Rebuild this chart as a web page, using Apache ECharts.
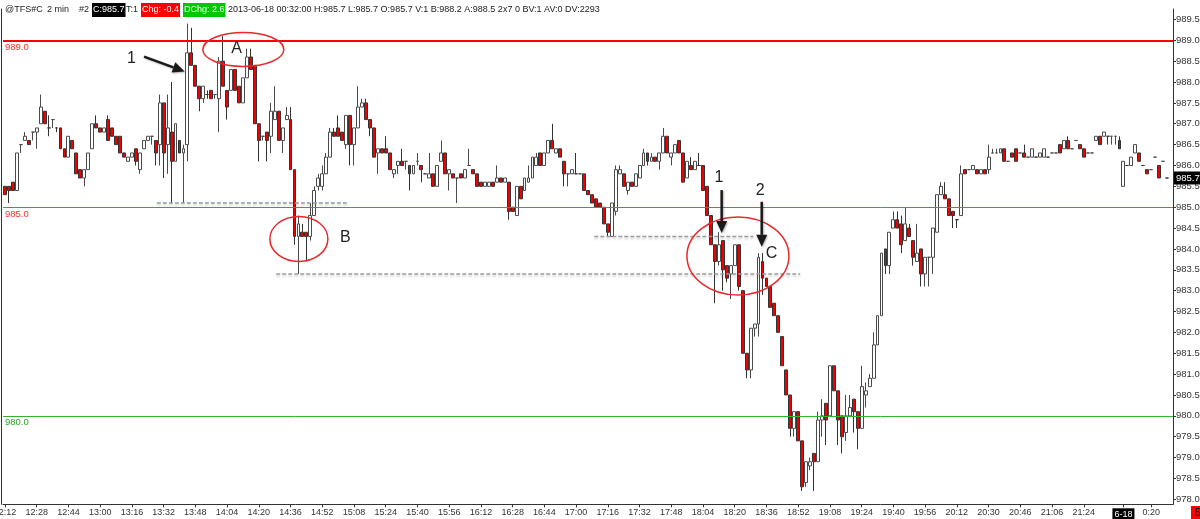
<!DOCTYPE html>
<html>
<head>
<meta charset="utf-8">
<script src="https://cdn.jsdelivr.net/npm/echarts@6/dist/echarts.min.js"></script>
<style>
  html, body { margin: 0; padding: 0; background: #fff; }
  #chart { width: 1200px; height: 519px; }
</style>
</head>
<body>
<div id="chart"></div>
<script>
// @TFS#C 2 min bars, 2013-06-17 12:12 -> 2013-06-18 00:32
const times = (
  "12:12 12:14 12:16 12:18 12:20 12:22 12:24 12:26 12:28 12:30 12:32 12:34 12:36 12:38 12:40 12:42 12:44 12:46 12:48 12:50 12:52 12:54 12:56 12:58 " +
  "13:00 13:02 13:04 13:06 13:08 13:10 13:12 13:14 13:16 13:18 13:20 13:22 13:24 13:26 13:28 13:30 13:32 13:34 13:36 13:38 13:40 13:42 13:44 13:46 13:48 13:50 13:52 13:54 13:56 13:58 " +
  "14:00 14:02 14:04 14:06 14:08 14:10 14:12 14:14 14:16 14:18 14:20 14:22 14:24 14:26 14:28 14:30 14:32 14:34 14:36 14:38 14:40 14:42 14:44 14:46 14:48 14:50 14:52 14:54 14:56 14:58 " +
  "15:00 15:02 15:04 15:06 15:08 15:10 15:12 15:14 15:16 15:18 15:20 15:22 15:24 15:26 15:28 15:30 15:32 15:34 15:36 15:38 15:40 15:42 15:44 15:46 15:48 15:50 15:52 15:54 15:56 15:58 " +
  "16:00 16:02 16:04 16:06 16:08 16:10 16:12 16:14 16:16 16:18 16:20 16:22 16:24 16:26 16:28 16:30 16:32 16:34 16:36 16:38 16:40 16:42 16:44 16:46 16:48 16:50 16:52 16:54 16:56 16:58 " +
  "17:00 17:02 17:04 17:06 17:08 17:10 17:12 17:14 17:16 17:18 17:20 17:22 17:24 17:26 17:28 17:30 17:32 17:34 17:36 17:38 17:40 17:42 17:44 17:46 17:48 17:50 17:52 17:54 17:56 17:58 " +
  "18:00 18:02 18:04 18:06 18:08 18:10 18:12 18:14 18:16 18:18 18:20 18:22 18:24 18:26 18:28 18:30 18:32 18:34 18:36 18:38 18:40 18:42 18:44 18:46 18:48 18:50 18:52 18:54 18:56 18:58 " +
  "19:00 19:02 19:04 19:06 19:08 19:10 19:12 19:14 19:16 19:18 19:20 19:22 19:24 19:26 19:28 19:30 19:32 19:34 19:36 19:38 19:40 19:42 19:44 19:46 19:48 19:50 19:52 19:54 19:56 19:58 " +
  "20:00 20:02 20:04 20:06 20:08 20:10 20:12 20:14 20:16 20:18 20:20 20:24 20:26 20:28 20:30 20:32 20:34 20:36 20:38 20:40 20:42 20:44 20:46 20:48 20:50 20:54 20:56 20:58 " +
  "21:02 21:04 21:06 21:08 21:10 21:12 21:14 21:18 21:20 21:22 21:24 21:26 21:28 21:30 21:32 21:36 21:40 21:44 21:48 21:54 " +
  "0:06 0:08 0:10 0:12 0:14 0:16 0:18 0:20 0:22 0:26 0:30 0:32"
).split(" ");

// [open, close, low, high]
const bars = [
  // 0
  [985.5, 985.3, 985.3, 985.5], [985.5, 985.4, 985.1, 985.5], [985.6, 985.4, 985.4, 985.6], [985.4, 986.3, 985.4, 986.3], [986.5, 986.5, 986.3, 986.5],
  [986.6, 986.7, 986.6, 986.8], [986.6, 986.5, 986.5, 986.6], [986.8, 986.8, 986.6, 986.8], [986.8, 986.9, 986.4, 986.9], [987.0, 987.4, 987.0, 987.7],
  // 10
  [987.3, 987.0, 987.0, 987.3], [986.9, 986.9, 986.7, 987.2], [987.1, 987.1, 986.9, 987.1], [986.9, 986.9, 986.8, 986.9], [986.9, 986.4, 986.4, 986.9],
  [986.4, 986.2, 986.2, 986.4], [986.2, 986.7, 986.2, 986.7], [986.6, 986.4, 986.4, 986.6], [986.3, 985.8, 985.8, 986.3], [985.9, 985.7, 985.7, 985.9],
  // 20
  [985.7, 985.9, 985.5, 985.9], [985.9, 986.3, 985.9, 986.3], [986.4, 987.0, 986.4, 987.0], [987.0, 986.9, 986.9, 987.2], [986.9, 986.8, 986.8, 986.9],
  [986.8, 986.9, 986.8, 986.9], [987.1, 986.6, 986.6, 987.2], [986.9, 986.7, 986.7, 986.9], [986.7, 986.5, 986.5, 986.7], [986.7, 986.3, 986.3, 986.7],
  // 30
  [986.3, 986.2, 986.2, 986.3], [986.1, 986.2, 986.1, 986.2], [986.2, 986.3, 986.2, 986.3], [986.4, 986.1, 986.0, 986.4], [985.9, 986.3, 985.8, 986.3],
  [986.4, 986.6, 986.4, 986.6], [986.6, 986.7, 986.6, 986.7], [986.7, 986.7, 986.5, 986.7], [986.6, 986.3, 986.0, 986.6], [986.5, 987.5, 986.0, 987.7],
  // 40
  [987.5, 986.3, 985.7, 987.5], [986.5, 986.9, 985.8, 987.7], [986.8, 986.1, 985.1, 988.0], [986.1, 987.0, 986.1, 987.0], [986.6, 986.3, 986.3, 986.6],
  [986.3, 986.4, 985.1, 986.5], [986.5, 988.7, 986.1, 989.4], [988.7, 988.4, 988.4, 989.3], [988.4, 987.9, 987.9, 988.4], [987.9, 987.6, 987.3, 987.9],
  // 50
  [987.6, 987.9, 987.5, 987.9], [987.7, 987.7, 987.6, 987.8], [987.8, 987.6, 987.6, 987.8], [987.7, 987.7, 987.6, 987.7], [987.6, 988.5, 986.8, 988.6],
  [988.5, 987.9, 987.9, 989.1], [987.8, 987.4, 987.1, 987.8], [987.8, 988.3, 987.8, 988.3], [988.3, 987.8, 987.8, 988.3], [987.9, 987.5, 987.5, 987.9],
  // 60
  [987.5, 988.1, 987.5, 988.1], [988.1, 988.6, 988.1, 988.8], [988.6, 988.3, 988.3, 988.8], [988.4, 987.0, 987.0, 988.4], [987.0, 986.6, 986.1, 987.0],
  [986.7, 986.7, 986.6, 986.7], [986.8, 986.6, 986.1, 986.8], [986.7, 987.3, 986.3, 987.5], [987.1, 987.3, 987.1, 987.9], [987.3, 986.6, 986.6, 987.3],
  // 70
  [986.6, 986.9, 986.3, 986.9], [987.1, 987.2, 987.1, 987.4], [987.1, 985.9, 985.9, 987.4], [985.9, 984.3, 984.1, 985.9], [984.3, 984.6, 983.4, 984.8],
  [984.4, 984.3, 984.3, 984.6], [984.4, 984.3, 983.7, 984.4], [984.3, 984.8, 984.2, 985.1], [984.8, 985.4, 984.8, 985.5], [985.5, 985.7, 985.4, 985.8],
  // 80
  [985.5, 985.8, 985.4, 986.0], [985.8, 986.2, 985.8, 986.3], [986.2, 986.8, 986.2, 986.9], [986.8, 986.7, 986.7, 986.9], [986.9, 986.7, 986.7, 987.2],
  [986.8, 986.6, 986.6, 986.8], [986.5, 987.2, 986.4, 987.2], [987.2, 986.5, 986.0, 987.2], [986.5, 986.9, 986.0, 986.9], [986.9, 987.4, 986.9, 987.9],
  // 90
  [987.4, 987.5, 987.4, 987.6], [987.5, 987.1, 987.1, 987.6], [987.1, 986.9, 986.7, 987.1], [986.9, 986.2, 986.2, 986.9], [986.3, 986.4, 985.8, 986.4],
  [986.4, 986.3, 986.3, 986.4], [986.4, 986.3, 986.3, 986.7], [986.3, 985.9, 985.9, 986.3], [985.8, 985.9, 985.7, 985.9], [986.0, 986.1, 985.8, 986.1],
  // 100
  [986.1, 986.0, 986.0, 986.4], [986.1, 986.1, 985.9, 986.1], [986.0, 985.8, 985.4, 986.0], [985.8, 986.0, 985.8, 986.0], [986.1, 986.1, 986.0, 986.3],
  [986.0, 985.9, 985.6, 986.0], [985.8, 985.8, 985.8, 985.8], [985.7, 985.8, 985.7, 986.3], [985.8, 985.5, 985.5, 985.8], [985.5, 986.0, 985.5, 986.0],
  // 110
  [986.1, 986.3, 986.1, 986.6], [986.3, 985.8, 985.8, 986.3], [985.8, 985.9, 985.4, 985.9], [985.8, 985.7, 985.7, 985.8], [985.7, 985.7, 985.1, 985.7],
  [985.8, 985.7, 985.7, 985.8], [985.7, 985.9, 985.7, 985.9], [986.0, 986.0, 986.0, 986.4], [985.9, 985.8, 985.8, 985.9], [985.8, 985.5, 985.5, 985.8],
  // 120
  [985.6, 985.5, 985.5, 985.6], [985.5, 985.6, 985.5, 985.6], [985.5, 985.6, 985.5, 985.6], [985.6, 985.5, 985.5, 985.6], [985.6, 985.7, 985.6, 986.0],
  [985.7, 985.6, 985.6, 985.7], [985.6, 985.7, 985.6, 985.7], [985.6, 984.9, 984.7, 985.6], [985.0, 984.9, 984.9, 985.0], [984.8, 985.5, 984.8, 985.5],
  // 130
  [985.5, 985.2, 985.2, 985.5], [985.4, 985.7, 985.4, 985.7], [985.6, 985.7, 985.6, 986.0], [985.7, 986.2, 985.7, 986.2], [986.0, 986.2, 986.0, 986.3],
  [986.3, 986.0, 986.0, 986.3], [986.0, 986.3, 986.0, 986.3], [986.3, 986.6, 986.3, 986.6], [986.6, 986.4, 986.4, 987.0], [986.3, 986.4, 986.3, 986.4],
  // 140
  [986.4, 986.2, 986.2, 986.4], [986.1, 985.8, 985.5, 986.1], [985.8, 985.8, 985.5, 985.8], [985.8, 985.9, 985.8, 985.9], [985.8, 985.8, 985.8, 986.3],
  [985.8, 985.8, 985.8, 985.8], [985.8, 985.4, 985.4, 985.8], [985.4, 985.3, 985.3, 985.4], [985.3, 985.1, 985.1, 985.3], [985.2, 985.0, 985.0, 985.2],
  // 150
  [985.1, 985.0, 985.0, 985.1], [985.0, 984.6, 984.6, 985.0], [984.6, 984.4, 984.3, 984.6], [984.3, 985.1, 984.3, 985.1], [984.9, 985.9, 984.8, 986.0],
  [985.8, 985.9, 985.8, 986.0], [985.8, 985.5, 985.5, 985.8], [985.4, 985.6, 985.3, 985.6], [985.6, 985.5, 985.5, 985.6], [985.5, 985.8, 985.5, 985.8],
  // 160
  [985.7, 986.0, 985.7, 986.0], [986.0, 986.3, 986.0, 986.4], [986.3, 986.1, 986.0, 986.3], [986.1, 986.2, 986.1, 986.3], [986.2, 986.1, 986.1, 986.2],
  [986.1, 986.3, 985.9, 986.3], [986.3, 986.7, 986.3, 986.9], [986.7, 986.3, 986.3, 986.7], [986.2, 986.3, 986.0, 986.3], [986.3, 986.5, 986.3, 986.5],
  // 170
  [986.6, 986.3, 986.3, 986.6], [986.3, 985.6, 985.6, 986.3], [985.7, 986.1, 985.7, 986.1], [986.0, 985.9, 985.9, 986.2], [985.9, 986.1, 985.9, 986.1],
  [986.0, 986.0, 986.0, 986.3], [986.0, 985.4, 985.4, 986.0], [985.5, 984.8, 984.8, 985.5], [984.8, 984.1, 984.1, 984.8], [984.1, 983.7, 982.7, 984.1],
  // 180
  [983.7, 984.1, 983.6, 984.4], [984.2, 983.5, 983.0, 984.2], [983.6, 983.3, 983.2, 983.6], [983.4, 983.6, 982.8, 983.6], [983.6, 984.1, 983.6, 984.1],
  [984.1, 983.1, 983.0, 984.1], [983.0, 981.5, 981.5, 983.0], [981.5, 981.1, 980.9, 981.5], [981.1, 982.1, 980.9, 982.1], [982.1, 982.2, 981.9, 982.2],
  // 190
  [982.2, 983.8, 981.9, 983.9], [983.7, 983.3, 982.9, 983.9], [983.3, 983.1, 983.1, 983.3], [983.1, 982.6, 982.6, 983.1], [982.7, 982.4, 982.4, 982.7],
  [982.4, 982.0, 982.0, 982.4], [981.9, 981.2, 981.2, 981.9], [981.1, 980.5, 980.5, 981.1], [980.5, 979.7, 979.5, 980.5], [979.7, 980.1, 979.5, 980.1],
  // 200
  [980.1, 979.4, 979.4, 980.1], [979.4, 978.3, 978.2, 979.4], [978.4, 978.9, 978.3, 978.9], [978.8, 978.9, 978.7, 979.0], [979.1, 978.9, 978.2, 979.1],
  [978.9, 979.9, 978.9, 980.1], [979.9, 980.0, 979.5, 980.4], [980.3, 979.9, 979.3, 980.3], [980.0, 981.2, 980.0, 981.2], [981.2, 980.6, 980.6, 981.2],
  // 210
  [980.6, 979.9, 979.3, 980.6], [980.0, 979.5, 979.1, 980.0], [979.6, 980.0, 979.4, 980.5], [980.0, 980.2, 980.0, 980.5], [980.4, 980.1, 979.6, 980.4],
  [980.1, 979.7, 979.2, 980.1], [979.7, 980.7, 979.7, 981.2], [980.5, 980.6, 980.2, 980.8], [980.7, 980.9, 980.7, 981.0], [980.9, 981.7, 980.9, 982.0],
  // 220
  [981.7, 982.4, 981.7, 982.4], [982.4, 983.9, 982.4, 983.9], [984.0, 983.6, 983.4, 984.0], [983.6, 984.4, 983.4, 984.4], [984.5, 984.7, 984.5, 984.9],
  [984.7, 984.5, 984.5, 984.9], [984.6, 984.1, 983.9, 984.8], [984.2, 984.6, 984.2, 985.0], [984.5, 984.3, 984.3, 984.6], [984.2, 983.8, 983.6, 984.2],
  // 230
  [983.7, 983.9, 983.7, 984.6], [984.0, 983.4, 983.1, 984.0], [983.4, 983.8, 983.1, 983.8], [983.8, 983.8, 983.1, 983.8], [983.8, 984.5, 983.4, 984.5],
  [984.4, 985.3, 984.4, 985.3], [985.3, 985.5, 985.3, 985.6], [985.3, 985.2, 985.2, 985.6], [985.2, 984.8, 984.8, 985.2], [984.9, 984.8, 984.5, 984.9],
  // 240
  [984.7, 984.7, 984.5, 984.7], [984.8, 985.8, 984.8, 986.0], [985.9, 985.8, 985.8, 985.9], [985.9, 985.9, 985.9, 985.9], [985.9, 986.0, 985.9, 986.0],
  [985.9, 985.8, 985.8, 985.9], [985.8, 985.9, 985.8, 985.9], [985.9, 985.8, 985.8, 985.9], [985.9, 986.2, 985.8, 986.5], [986.3, 986.3, 986.3, 986.4],
  // 250
  [986.3, 986.3, 986.3, 986.4], [986.3, 986.4, 986.3, 986.4], [986.4, 986.1, 986.1, 986.4], [986.1, 986.1, 986.1, 986.1], [986.3, 986.2, 986.2, 986.3],
  [986.4, 986.1, 986.1, 986.4], [986.3, 986.3, 986.3, 986.3], [986.3, 986.2, 986.2, 986.5], [986.2, 986.2, 986.2, 986.2], [986.2, 986.4, 986.2, 986.4],
  // 260
  [986.2, 986.2, 986.2, 986.2], [986.2, 986.3, 986.2, 986.3], [986.2, 986.4, 986.2, 986.4], [986.2, 986.2, 986.2, 986.2], [986.3, 986.3, 986.3, 986.3],
  [986.3, 986.3, 986.3, 986.3], [986.5, 986.3, 986.3, 986.5], [986.4, 986.6, 986.4, 986.6], [986.6, 986.4, 986.4, 986.7], [986.4, 986.4, 986.4, 986.4],
  // 270
  [986.6, 986.6, 986.6, 986.6], [986.5, 986.4, 986.4, 986.5], [986.4, 986.2, 986.2, 986.4], [986.3, 986.3, 986.3, 986.3], [986.3, 986.3, 986.3, 986.3],
  [986.6, 986.7, 986.6, 986.7], [986.7, 986.5, 986.5, 986.7], [986.7, 986.8, 986.7, 986.8], [986.7, 986.7, 986.5, 986.7], [986.7, 986.7, 986.5, 986.7],
  // 280
  [986.7, 986.7, 986.5, 986.7], [986.6, 986.4, 986.4, 986.7], [985.5, 986.1, 985.5, 986.1], [986.0, 986.0, 986.0, 986.0], [986.0, 986.2, 986.0, 986.2],
  [986.3, 986.5, 986.3, 986.5], [986.3, 986.1, 986.1, 986.3], [986.0, 986.0, 986.0, 986.0], [985.9, 985.8, 985.8, 985.9], [985.9, 985.9, 985.9, 985.9],
  // 290
  [986.2, 986.2, 986.2, 986.2], [986.0, 985.7, 985.7, 986.0], [986.1, 986.1, 986.1, 986.1], [985.7, 985.7, 985.7, 985.7]
];

// x-axis labels (every 8 bars) and the session date marker
const tickAt = ("12:12 12:28 12:44 13:00 13:16 13:32 13:48 14:04 14:20 14:36 14:52 15:08 15:24 15:40 15:56 16:12 16:28 16:44 " +
  "17:00 17:16 17:32 17:48 18:04 18:20 18:36 18:52 19:08 19:24 19:40 19:56 20:12 20:30 20:46 21:06 21:24 0:06 0:20").split(" ");
const dayMark = { at: "0:06", text: "6-18" };

const yTicks = [978.0, 978.5, 979.0, 979.5, 980.0, 980.5, 981.0, 981.5, 982.0, 982.5, 983.0, 983.5,
  984.0, 984.5, 985.0, 985.5, 986.0, 986.5, 987.0, 987.5, 988.0, 988.5, 989.0, 989.5];

// horizontal levels: price, line colour, width, label colour
const levels = [
  [989.0, "#ff0000", 2, "#ff3030"],
  [985.0, "#ff4040", 1, "#ff3030"],
  [980.0, "#2fb52f", 1, "#2a9f2a"]
];

// annotations (bar index, price)
const supports = [[38.3, 86.7, 985.1], [68.4, 200.5, 983.4], [148.6, 188.7, 984.3]];
const circles = [[60.1, 988.78, 40.5, 17], [74.1, 984.24, 29, 22.5], [184.8, 983.83, 51, 39]];
const arrows = [[35.05, 988.61, 45.3, 988.25], [180.7, 985.41, 180.7, 984.38], [190.8, 985.13, 190.8, 984.05]];
const notes = [["1", 31.9, 988.57], ["A", 58.4, 988.81], ["B", 85.8, 984.28], ["C", 193.3, 983.9], ["1", 180.0, 985.70], ["2", 190.4, 985.41]];

const header = [
  [5, "@TFS#C"], [47, "2 min"], [79, "#2"], [92, "C:985.7", "#000000"], [126, "T:1"],
  [141, "Chg: -0.4", "#ff0000"], [183, "DChg: 2.6", "#00c800"],
  [228, "2013-06-18 00:32:00 H:985.7 L:985.7 O:985.7 V:1 B:988.2 A:988.5 2x7 0 BV:1 AV:0 DV:2293"]
];

const FONT = '"Liberation Sans", Arial, sans-serif';
const categories = times.concat([""]);
const lastClose = bars[bars.length - 1][1];

const option = {
  animation: false,
  backgroundColor: "#ffffff",
  grid: { left: 3, right: 27, top: 9, bottom: 14.7, outerBoundsMode: "none" },
  xAxis: {
    type: "category",
    data: categories,
    boundaryGap: true,
    axisLine: { lineStyle: { color: "#333", width: 1 } },
    axisTick: {
      show: true, length: 3, alignWithLabel: true,
      interval: (i, v) => tickAt.includes(v),
      lineStyle: { color: "#333" }
    },
    axisLabel: {
      interval: (i, v) => tickAt.includes(v),
      formatter: v => (v === dayMark.at ? "{d|" + dayMark.text + "}" : v),
      color: "#333", fontSize: 9, fontFamily: FONT, margin: 4,
      rich: { d: { backgroundColor: "#000", color: "#fff", fontSize: 9, fontFamily: FONT, padding: [2, 2, 1, 2] } }
    },
    splitLine: { show: false }
  },
  yAxis: [
    {
      type: "value",
      position: "right",
      min: 977.88,
      max: 989.75,
      axisLine: { show: true, lineStyle: { color: "#333" } },
      axisTick: { show: true, length: 3, customValues: yTicks, lineStyle: { color: "#333" } },
      axisLabel: { customValues: yTicks, formatter: v => v.toFixed(1), color: "#333", fontSize: 9.5, fontFamily: FONT, margin: 3 },
      splitLine: { show: false }
    },
    {
      type: "value", position: "left", offset: 2, min: 0, max: 1,
      axisLine: { show: true, lineStyle: { color: "#333" } },
      axisTick: { show: false }, axisLabel: { show: false }, splitLine: { show: false }
    }
  ],
  series: [{
    type: "candlestick",
    data: bars,
    barWidth: 3.4,
    itemStyle: { color: "#ffffff", color0: "#f00000", borderColor: "#4a4a4a", borderColor0: "#333", borderWidth: 1 },
    markLine: {
      silent: true,
      symbol: ["none", "none"],
      data: levels.map(([p, c, w, lc]) => ({
        yAxis: p,
        lineStyle: { color: c, width: w, type: "solid" },
        label: { show: true, position: "insideStartBottom", distance: 2, formatter: p.toFixed(1), color: lc, fontSize: 9.5, fontFamily: FONT }
      })).concat([{
        yAxis: lastClose,
        lineStyle: { color: "rgba(0,0,0,0)", width: 0 },
        label: { show: true, position: "end", distance: 1, formatter: lastClose.toFixed(1), color: "#fff", backgroundColor: "#000", padding: [2, 2, 1, 2], fontSize: 9.5, fontFamily: FONT }
      }])
    }
  }]
};

const chart = echarts.init(document.getElementById("chart"));
chart.setOption(option);

// annotations drawn through the axes' own scales
const x0 = chart.convertToPixel({ xAxisIndex: 0 }, 0);
const x1 = chart.convertToPixel({ xAxisIndex: 0 }, 1);
const X = i => x0 + (x1 - x0) * i;
const Y = p => chart.convertToPixel({ yAxisIndex: 0 }, p);

const g = [];
supports.forEach(([a, b, p]) => {
  g.push({ type: "line", z: 50, shape: { x1: X(a), y1: Y(p), x2: X(b), y2: Y(p) },
    style: { stroke: "#9a9a9a", lineWidth: 1.5, lineDash: [4, 2], shadowColor: "rgba(0,0,0,0.18)", shadowBlur: 2, shadowOffsetY: 2 } });
});
circles.forEach(([i, p, rx, ry]) => {
  g.push({ type: "ellipse", z: 60, shape: { cx: X(i), cy: Y(p), rx: rx, ry: ry },
    style: { fill: "none", stroke: "#e8282c", lineWidth: 1.5 } });
});
arrows.forEach(([ia, pa, ib, pb]) => {
  const ax = X(ia), ay = Y(pa), bx = X(ib), by = Y(pb);
  const len = Math.hypot(bx - ax, by - ay), ux = (bx - ax) / len, uy = (by - ay) / len;
  const hl = 12, hw = 5.5;
  const cx = bx - ux * hl, cy = by - uy * hl;
  g.push({ type: "line", z: 60, shape: { x1: ax, y1: ay, x2: cx, y2: cy },
    style: { stroke: "#1a1a1a", lineWidth: 2.5, shadowColor: "rgba(0,0,0,0.3)", shadowBlur: 2, shadowOffsetX: 1, shadowOffsetY: 1 } });
  g.push({ type: "polygon", z: 60, shape: { points: [[bx, by], [cx - uy * hw, cy + ux * hw], [cx + uy * hw, cy - ux * hw]] },
    style: { fill: "#1a1a1a", shadowColor: "rgba(0,0,0,0.3)", shadowBlur: 2, shadowOffsetX: 1, shadowOffsetY: 1 } });
});
notes.forEach(([t, i, p]) => {
  g.push({ type: "text", z: 60, x: X(i), y: Y(p),
    style: { text: t, font: "16px " + FONT, fill: "#222", align: "center", verticalAlign: "middle",
      shadowColor: "rgba(0,0,0,0.3)", shadowBlur: 2, shadowOffsetX: 1, shadowOffsetY: 1 } });
});
header.forEach(([x, t, bg]) => {
  g.push({ type: "text", z: 70, x: x, y: 10,
    style: { text: t, font: "9px " + FONT, fill: bg ? "#fff" : "#222", verticalAlign: "middle",
      backgroundColor: bg || "transparent", padding: bg ? [3, 1, 2, 1] : 0 } });
});
g.push({ type: "text", z: 70, x: 1191, y: 513,
  style: { text: "5", font: "10px " + FONT, fill: "#000", verticalAlign: "middle", backgroundColor: "#ff0000", padding: [2, 4, 2, 4] } });

chart.setOption({ graphic: g });
window.addEventListener("resize", () => chart.resize());
</script>
</body>
</html>
